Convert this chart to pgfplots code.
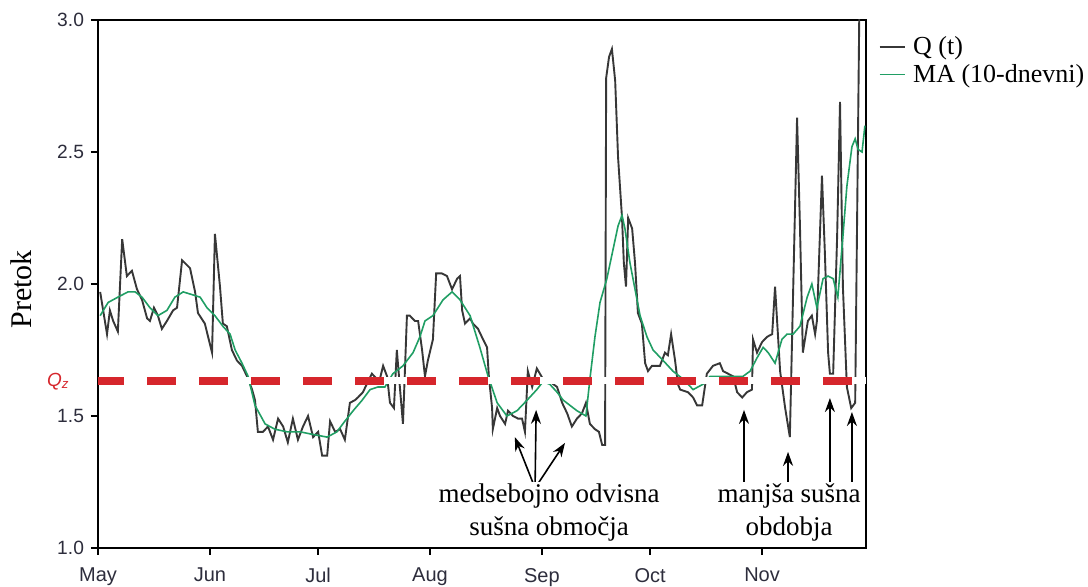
\documentclass[border=0pt]{standalone}
\usepackage{fontspec}
\setmainfont{Liberation Serif}
\setsansfont{Liberation Sans}
\usepackage{pgfplots}
\pgfplotsset{compat=1.18}
\usetikzlibrary{arrows.meta}
\definecolor{qred}{RGB}{214,38,44}
\definecolor{magreen}{RGB}{32,158,100}
\definecolor{qline}{RGB}{55,55,55}
\definecolor{ticktext}{RGB}{45,45,60}
\begin{document}
\begin{tikzpicture}
\begin{axis}[
  name=ax, scale only axis, width=384pt, height=264pt,
  xmin=0, xmax=212.8, ymin=1, ymax=3,
  clip mode=individual,
  xtick={0,31,61,92,123,153,184},
  xticklabels={May,Jun,Jul,Aug,Sep,Oct,Nov},
  ytick={1,1.5,2,2.5,3},
  yticklabel style={/pgf/number format/fixed,/pgf/number format/fixed zerofill,/pgf/number format/precision=1, font=\fontsize{9.6}{10}\selectfont\sffamily},
  xticklabel style={yshift=-3pt, font=\fontsize{10}{10}\selectfont\sffamily},
  /pgf/number format/assume math mode=true,
  tick label style={text=ticktext},
  tick align=outside, xtick pos=bottom, ytick pos=left, major tick length=3.5pt,
  axis line style={line width=0.8pt}, tick style={line width=0.8pt, black},
  ylabel={Pretok},
  ylabel style={font=\fontsize{15}{16}\selectfont, at={(axis description cs:-0.086,0.49)}, anchor=south, inner sep=0pt},
  legend style={at={(axis description cs:1.016,0.972)}, anchor=north west, draw=none, fill=none,
    inner sep=0pt, font=\fontsize{13}{15}\selectfont, nodes={inner sep=0.8pt}, row sep=1.5pt},
  legend cell align=left,
  legend image code/.code={\draw[#1] (0pt,0pt) -- (12.5pt,0pt); \path (15.5pt,0pt);},
]
\addplot[qline, line width=0.95pt] coordinates {
(0.6,1.97)(2.5,1.81)(3.3,1.90)(4.2,1.86)(5.5,1.82)(6.7,2.17)(8.0,2.03)(9.4,2.05)(10.8,1.98)(12.2,1.94)(13.6,1.87)(14.4,1.86)(15.5,1.91)(16.6,1.88)(17.7,1.83)(19.1,1.86)(20.8,1.90)(21.9,1.91)(23.3,2.09)(25.5,2.06)(26.9,1.97)(27.7,1.89)(29.6,1.85)(31.6,1.74)(32.4,2.19)(33.8,1.99)(34.6,1.85)(35.7,1.84)(37.1,1.75)(38.5,1.71)(39.9,1.69)(41.3,1.65)(42.7,1.60)(43.5,1.56)(44.3,1.44)(45.7,1.44)(47.1,1.46)(48.5,1.41)(49.9,1.49)(51.3,1.46)(52.6,1.40)(54.0,1.49)(55.4,1.41)(56.8,1.46)(58.2,1.50)(59.6,1.42)(61.0,1.44)(62.1,1.35)(63.5,1.35)(64.3,1.48)(65.7,1.44)(67.1,1.45)(68.4,1.41)(69.8,1.55)(71.2,1.56)(72.0,1.57)(73.4,1.59)(74.8,1.63)(75.9,1.66)(77.3,1.64)(78.1,1.64)(79.0,1.69)(80.1,1.65)(80.9,1.55)(82.0,1.53)(82.8,1.75)(83.7,1.60)(84.5,1.47)(85.6,1.88)(86.4,1.88)(87.8,1.86)(88.7,1.86)(89.8,1.75)(90.6,1.65)(91.4,1.71)(92.8,1.79)(93.7,2.04)(95.3,2.04)(96.7,2.03)(98.1,1.98)(99.5,2.02)(100.3,2.03)(100.9,1.90)(101.7,1.85)(103.1,1.87)(103.9,1.85)(105.3,1.83)(106.7,1.79)(107.8,1.76)(108.3,1.65)(109.2,1.53)(109.4,1.45)(110.6,1.53)(111.4,1.50)(112.8,1.47)(113.6,1.52)(115.0,1.50)(116.4,1.49)(117.5,1.49)(118.3,1.44)(119.1,1.67)(120.3,1.61)(121.6,1.68)(123.3,1.64)(125.2,1.63)(127.2,1.61)(128.6,1.55)(130.0,1.51)(131.3,1.46)(132.7,1.49)(134.1,1.51)(135.2,1.55)(136.3,1.47)(137.7,1.45)(138.8,1.44)(139.7,1.39)(140.5,1.39)(140.8,2.78)(141.6,2.86)(142.4,2.89)(143.3,2.77)(144.1,2.48)(145.2,2.25)(145.7,2.08)(146.3,1.99)(146.9,2.25)(148.0,2.21)(148.8,2.08)(149.6,1.89)(150.7,1.85)(151.6,1.70)(152.4,1.67)(153.5,1.69)(155.7,1.69)(157.1,1.74)(157.9,1.73)(158.8,1.81)(159.9,1.71)(160.7,1.62)(161.3,1.60)(163.5,1.59)(164.9,1.57)(166.0,1.54)(167.4,1.54)(168.7,1.66)(170.4,1.69)(172.3,1.70)(173.2,1.67)(176.0,1.65)(177.1,1.59)(178.5,1.57)(179.8,1.59)(181.2,1.60)(181.5,1.79)(182.6,1.74)(184.0,1.78)(185.4,1.80)(186.8,1.81)(187.6,1.99)(189.0,1.67)(190.4,1.53)(191.7,1.42)(193.7,2.63)(194.5,2.22)(195.3,1.74)(196.7,1.86)(197.8,1.88)(198.7,1.81)(199.2,1.86)(200.6,2.41)(201.4,2.12)(202.3,1.74)(202.8,1.66)(203.7,1.66)(204.8,2.18)(205.6,2.69)(206.4,1.99)(207.5,1.61)(208.7,1.53)(209.8,1.55)(211.0,3.10)
};
\addlegendentry{Q (t)}
\addplot[magreen, line width=0.8pt] coordinates {
(0.6,1.88)(2.8,1.93)(5.5,1.95)(8.3,1.97)(10.3,1.97)(12.2,1.95)(14.4,1.91)(16.6,1.88)(19.1,1.90)(21.3,1.95)(23.6,1.97)(26.0,1.96)(28.3,1.95)(30.2,1.91)(32.4,1.88)(34.6,1.84)(36.6,1.81)(38.0,1.75)(39.9,1.70)(41.6,1.65)(43.5,1.54)(46.3,1.47)(49.0,1.45)(52.4,1.44)(56.0,1.44)(59.6,1.43)(63.5,1.42)(66.2,1.44)(68.4,1.48)(70.7,1.52)(73.2,1.56)(75.4,1.60)(77.6,1.61)(79.5,1.61)(81.7,1.66)(84.5,1.69)(87.3,1.74)(89.2,1.80)(90.6,1.86)(92.8,1.88)(95.6,1.94)(98.1,1.97)(100.3,1.94)(103.1,1.88)(105.8,1.76)(108.1,1.65)(110.6,1.55)(113.3,1.50)(116.1,1.52)(118.9,1.56)(121.6,1.60)(123.3,1.63)(125.2,1.62)(127.2,1.59)(128.9,1.56)(132.7,1.52)(135.2,1.50)(136.3,1.64)(137.7,1.80)(139.1,1.93)(141.0,2.02)(142.7,2.13)(144.1,2.22)(145.2,2.26)(146.0,2.21)(147.4,2.08)(148.8,1.98)(150.2,1.88)(152.1,1.80)(153.8,1.75)(156.6,1.71)(159.3,1.67)(162.1,1.64)(164.9,1.60)(167.6,1.62)(169.6,1.65)(175.1,1.65)(178.7,1.65)(180.7,1.67)(182.6,1.72)(184.3,1.76)(185.7,1.74)(187.6,1.70)(189.5,1.79)(190.9,1.81)(192.6,1.81)(194.5,1.84)(196.5,1.95)(197.8,2.00)(199.2,1.91)(200.9,2.02)(202.3,2.03)(203.7,2.02)(205.0,1.95)(206.4,2.18)(207.5,2.37)(208.9,2.52)(209.8,2.55)(210.6,2.51)(211.7,2.50)(212.5,2.60)
};
\addlegendentry{MA (10-dnevni)}
\addplot[white, line width=3.5pt, forget plot] coordinates {(0,1.633)(212.8,1.633)};
\addplot[qred, line width=4pt, dash pattern=on 14.5pt off 11.5pt, dash phase=1.5pt, forget plot] coordinates {(0,1.633)(212.8,1.633)};
% annotations
\tikzset{arr/.style={line width=0.8pt, -{Stealth[length=7pt,width=5pt]}}}
\draw[arr] (axis cs:121.1,1.227) -- (axis cs:115.5,1.420);
\draw[arr] (axis cs:121.1,1.227) -- (axis cs:121.4,1.523);
\draw[arr] (axis cs:121.1,1.227) -- (axis cs:129.4,1.398);
\draw[arr] (axis cs:179.0,1.227) -- (axis cs:179.0,1.523);
\draw[arr] (axis cs:191.2,1.227) -- (axis cs:191.2,1.364);
\draw[arr] (axis cs:202.8,1.227) -- (axis cs:202.8,1.568);
\draw[arr] (axis cs:208.9,1.227) -- (axis cs:208.9,1.515);
\node[align=center, font=\fontsize{13.5}{16.5}\selectfont, fill=white, inner sep=1pt] at (axis cs:125.0,1.133) {medsebojno odvisna\\sušna območja};
\node[align=center, font=\fontsize{13.5}{16.5}\selectfont, fill=white, inner sep=1pt] at (axis cs:191.5,1.133) {manjša sušna\\obdobja};
\node[anchor=base east, text=qred, font=\fontsize{9.5}{10}\selectfont\sffamily\itshape, inner sep=0pt] at (axis description cs:-0.0365,0.305) {Q\textsubscript{z}};
\end{axis}
\pgfresetboundingbox
\path[use as bounding box] ([xshift=-49pt,yshift=-19.5pt]ax.south west) rectangle ++(544pt,293.5pt);
\end{tikzpicture}
\end{document}
